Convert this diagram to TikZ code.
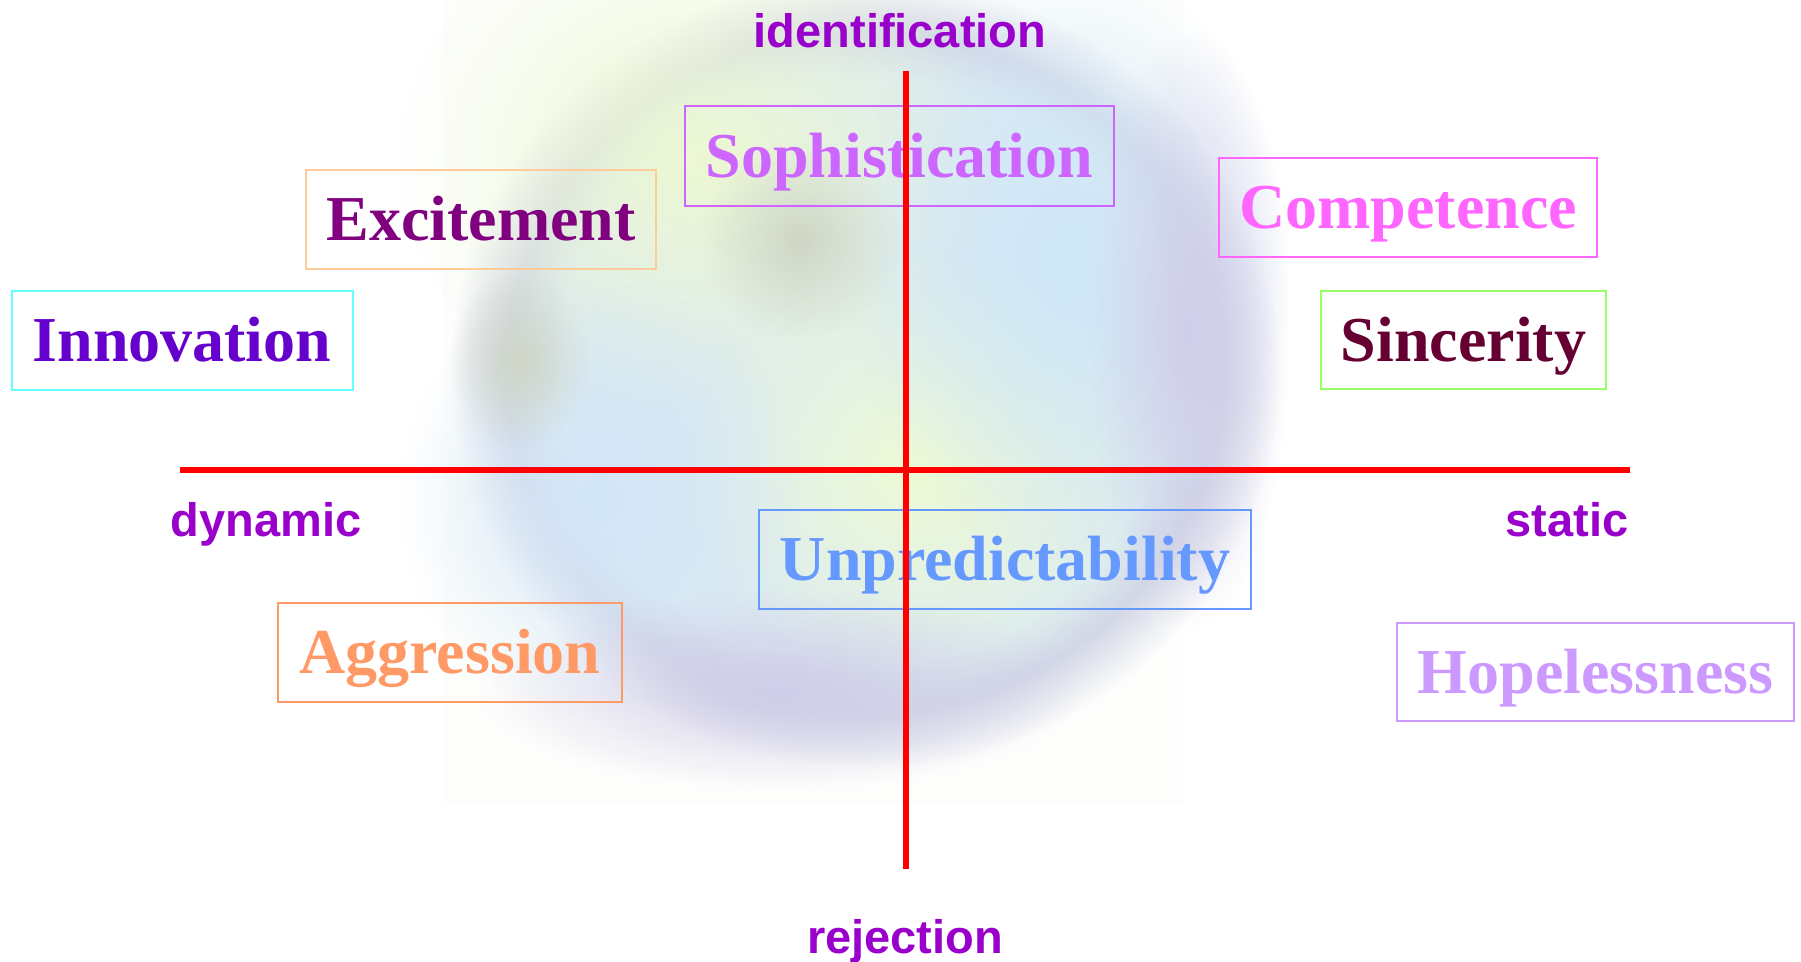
\documentclass[tikz,border=0pt]{standalone}
\usepackage{fontspec}
\setmainfont{Liberation Serif}
\newfontfamily\arialfont{Liberation Sans}
\usetikzlibrary{fadings}
\definecolor{axisred}{HTML}{FF0000}
\definecolor{labelpurple}{HTML}{9900CC}
\definecolor{innoB}{HTML}{66FFFF}\definecolor{innoT}{HTML}{6600CC}
\definecolor{exciB}{HTML}{FFCC99}\definecolor{exciT}{HTML}{800080}
\definecolor{sophB}{HTML}{CC66FF}\definecolor{sophT}{HTML}{CC66FF}
\definecolor{compB}{HTML}{FF66FF}\definecolor{compT}{HTML}{FF66FF}
\definecolor{sincB}{HTML}{99FF66}\definecolor{sincT}{HTML}{660033}
\definecolor{aggrB}{HTML}{FF9966}\definecolor{aggrT}{HTML}{FF9966}
\definecolor{unprB}{HTML}{6699FF}\definecolor{unprT}{HTML}{6699FF}
\definecolor{hopeB}{HTML}{CC99FF}\definecolor{hopeT}{HTML}{CC99FF}
\definecolor{bgRing}{HTML}{D1D5E6}
\definecolor{bgInner}{HTML}{DCEBF3}
\definecolor{bgYellow}{HTML}{EDF8D2}
\definecolor{bgYellowB}{HTML}{EEFAD4}
\definecolor{bgBlue}{HTML}{CFE7F8}
\definecolor{bgBlueL}{HTML}{D3E6F8}
\definecolor{bgGrey}{HTML}{CFD6C6}
\definecolor{bgLav}{HTML}{D0CDE8}
\definecolor{bgRect}{HTML}{FDFEFC}
\tikzfading[name=softblob, inner color=transparent!0, outer color=transparent!100]
\tikzset{
  tbox/.style 2 args={draw=#1, text=#2, line width=2pt, inner sep=0pt,
    text height=42.4pt, text depth=0pt, anchor=center,
    font=\fontsize{64}{64}\selectfont\bfseries},
  axislabel/.style={text=labelpurple, inner sep=0pt, anchor=base,
    font=\arialfont\fontsize{47}{47}\selectfont\bfseries},
  axisline/.style={draw=axisred, line width=5.5pt},
  disc/.style={fill=#1, path fading=circle with fuzzy edge 15 percent},
  blob/.style={fill=#1, path fading=softblob},
}
\begin{document}
\begin{tikzpicture}[x=1pt,y=-1pt]
\useasboundingbox (0,0) rectangle (1801,961);
\fill[white] (0,0) rectangle (1801,961);
% blurred background picture
\fill[bgRect] (442,0) rectangle (1183,805);
\fill[disc=bgRing] (865,372) ellipse [x radius=415, y radius=395];
\fill[disc=bgInner] (865,372) ellipse [x radius=360, y radius=345];
\fill[blob=bgYellow] (700,160) ellipse [x radius=300, y radius=260];
\fill[blob=bgYellowB] (920,470) ellipse [x radius=240, y radius=220];
\fill[blob=bgBlue] (1070,260) ellipse [x radius=220, y radius=300];
\fill[blob=bgBlueL] (600,500) ellipse [x radius=200, y radius=220];
\fill[blob=bgGrey] (800,240) ellipse [x radius=100, y radius=100];
\fill[blob=bgGrey] (520,360) ellipse [x radius=70, y radius=90];
\fill[blob=bgLav] (780,690) ellipse [x radius=300, y radius=100];
\fill[blob=bgLav] (1190,330) ellipse [x radius=100, y radius=300];
% boxes
\node[tbox={innoB}{innoT}, minimum width=341pt, minimum height=99pt] (inno) at (182,340.5) {Innovation};
\node[tbox={exciB}{exciT}, minimum width=350pt, minimum height=99pt] (exci) at (481,219.5) {Excitement};
\node[tbox={sophB}{sophT}, minimum width=429pt, minimum height=100pt] (soph) at (899.5,156) {Sophistication};
\node[tbox={compB}{compT}, minimum width=378pt, minimum height=99pt] (comp) at (1408,207.5) {Competence};
\node[tbox={sincB}{sincT}, minimum width=285pt, minimum height=98pt] (sinc) at (1463.5,340) {Sincerity};
\node[tbox={aggrB}{aggrT}, minimum width=344pt, minimum height=99pt] (aggr) at (450,652.5) {Aggression};
\node[tbox={unprB}{unprT}, minimum width=492pt, minimum height=99pt] (unpr) at (1005,559.5) {Unpredictability};
\node[tbox={hopeB}{hopeT}, minimum width=397pt, minimum height=98pt] (hope) at (1595.5,672) {Hopelessness};
% axes
\coordinate (vtop) at (906,71);
\coordinate (vbot) at (906,869);
\coordinate (hleft) at (180,470);
\coordinate (hright) at (1630,470);
\draw[axisline] (vtop) -- (vbot);
\draw[axisline] (hleft) -- (hright);
% axis labels
\node[axislabel] (ident) at (900,47) {identification};
\node[axislabel] (dyn) at (266,536) {dynamic};
\node[axislabel] (stat) at (1567,536) {static};
\node[axislabel] (rej) at (905,953) {rejection};
\end{tikzpicture}
\end{document}
